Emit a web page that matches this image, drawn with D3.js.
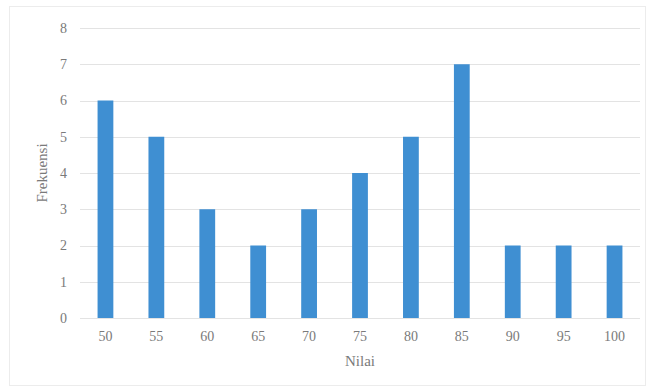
<!DOCTYPE html>
<html>
<head>
  <meta charset="utf-8">
  <script src="https://d3js.org/d3.v7.min.js"></script>
  <style>
    body, html { margin: 0; padding: 0; background: #fff; }
    svg { display: block; font-family: 'Liberation Serif', 'Times New Roman', serif; }
  </style>
</head>
<body>
  <svg></svg>
  <script>
    // Data
    const nilai = ["50", "55", "60", "65", "70", "75", "80", "85", "90", "95", "100"];
    const frekuensi = [6, 5, 3, 2, 3, 4, 5, 7, 2, 2, 2];
    const yTicks = [0, 1, 2, 3, 4, 5, 6, 7, 8];

    const width = 652;
    const height = 389;
    const marginTop = 28;
    const marginRight = 12;
    const marginBottom = 71;
    const marginLeft = 80;
    const font = "'Liberation Serif', 'Times New Roman', serif";

    const svg = d3.select("svg")
      .attr("width", width)
      .attr("height", height)
      .attr("viewBox", [0, 0, width, height]);

    // chart frame
    svg.append("rect")
      .attr("x", 9.5)
      .attr("y", 6.5)
      .attr("width", width - 16)
      .attr("height", height - 10)
      .attr("fill", "none")
      .attr("stroke", "#ececec");

    const x = d3.scaleBand()
      .domain(nilai)
      .range([marginLeft, width - marginRight])
      .paddingInner(0.69)
      .paddingOuter(0.345);

    const y = d3.scaleLinear()
      .domain([0, 8])
      .range([height - marginBottom, marginTop]);

    // gridlines
    svg.append("g")
      .attr("stroke", "#e3e3e3")
      .selectAll("line")
      .data(yTicks)
      .join("line")
        .attr("x1", marginLeft)
        .attr("x2", width - marginRight)
        .attr("y1", d => Math.round(y(d)) + 0.5)
        .attr("y2", d => Math.round(y(d)) + 0.5);

    svg.append("g")
      .attr("fill", "#3f8fd2")
      .selectAll("rect")
      .data(frekuensi)
      .join("rect")
        .attr("x", (d, i) => x(nilai[i]))
        .attr("width", x.bandwidth())
        .attr("y", d => y(d))
        .attr("height", d => y(0) - y(d));

    // y axis
    svg.append("g")
      .attr("transform", `translate(${marginLeft},0)`)
      .call(d3.axisLeft(y).tickValues(yTicks).tickSize(0).tickPadding(13))
      .attr("font-family", font)
      .attr("font-size", 14)
      .call(g => g.select(".domain").remove())
      .call(g => g.selectAll("text").attr("fill", "#7a7a7a"));

    // x axis
    svg.append("g")
      .attr("transform", `translate(0,${height - marginBottom})`)
      .call(d3.axisBottom(x).tickSize(0).tickPadding(13))
      .attr("font-family", font)
      .attr("font-size", 14)
      .call(g => g.select(".domain").remove())
      .call(g => g.selectAll("text").attr("fill", "#7a7a7a"));

    svg.append("text")
      .attr("x", (marginLeft + width - marginRight) / 2)
      .attr("y", 366)
      .attr("text-anchor", "middle")
      .attr("fill", "#7a7a7a")
      .attr("font-size", 15)
      .text("Nilai");

    svg.append("text")
      .attr("transform", `translate(47,${(marginTop + height - marginBottom) / 2}) rotate(-90)`)
      .attr("text-anchor", "middle")
      .attr("fill", "#7a7a7a")
      .attr("font-size", 15)
      .text("Frekuensi");
  </script>
</body>
</html>
